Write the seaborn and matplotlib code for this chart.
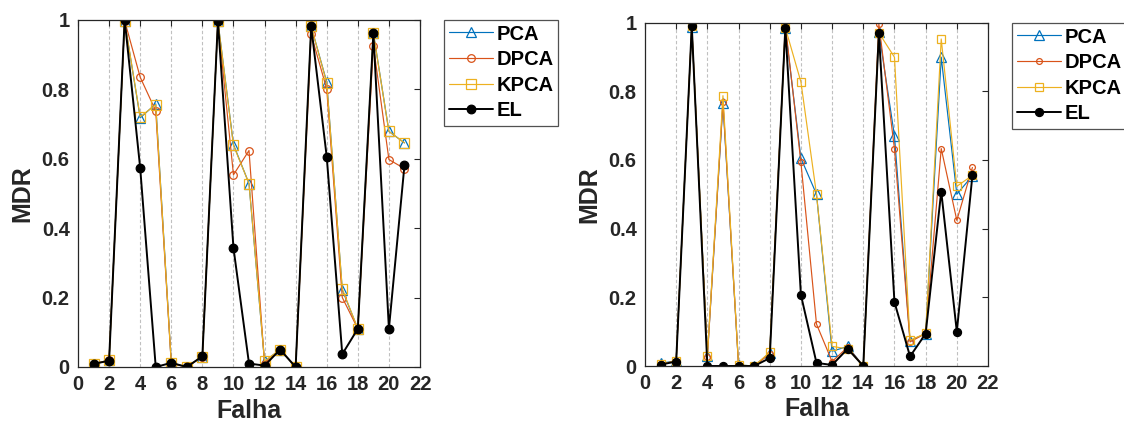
import numpy as np
import pandas as pd
import seaborn as sns
import matplotlib
matplotlib.use("Agg")
import matplotlib.pyplot as plt
from matplotlib.ticker import FuncFormatter

falha = list(range(1, 22))

# Left panel
pca_a = [0.008, 0.02, 0.995, 0.717, 0.757, 0.012, 0.0, 0.03, 0.995, 0.64, 0.528,
         0.016, 0.05, 0.0, 0.98, 0.82, 0.222, 0.11, 0.962, 0.678, 0.645]
dpca_a = [0.008, 0.02, 0.997, 0.834, 0.737, 0.01, 0.0, 0.03, 0.995, 0.553, 0.623,
          0.01, 0.05, 0.0, 0.957, 0.80, 0.20, 0.11, 0.925, 0.597, 0.571]
kpca_a = [0.008, 0.02, 0.995, 0.72, 0.755, 0.012, 0.0, 0.03, 0.995, 0.638, 0.528,
          0.017, 0.05, 0.0, 0.98, 0.818, 0.225, 0.11, 0.96, 0.678, 0.645]
el_a = [0.009, 0.018, 1.0, 0.573, 0.0, 0.012, 0.0, 0.031, 0.995, 0.343, 0.01,
        0.004, 0.05, 0.0, 0.98, 0.605, 0.037, 0.11, 0.96, 0.11, 0.58]

# Right panel
pca_b = [0.008, 0.015, 0.988, 0.028, 0.765, 0.003, 0.0, 0.038, 0.984, 0.605, 0.50,
         0.043, 0.057, 0.0, 0.972, 0.67, 0.074, 0.094, 0.899, 0.50, 0.554]
dpca_b = [0.005, 0.015, 0.99, 0.025, 0.77, 0.002, 0.0, 0.035, 0.993, 0.593, 0.122,
          0.013, 0.055, 0.0, 0.995, 0.633, 0.07, 0.095, 0.633, 0.424, 0.578]
kpca_b = [0.005, 0.015, 0.99, 0.03, 0.787, 0.003, 0.0, 0.04, 0.985, 0.827, 0.50,
          0.057, 0.05, 0.0, 0.97, 0.899, 0.075, 0.095, 0.952, 0.523, 0.555]
el_b = [0.004, 0.013, 0.99, 0.0, 0.0, 0.0, 0.0, 0.023, 0.985, 0.207, 0.009,
        0.003, 0.05, 0.0, 0.97, 0.186, 0.028, 0.094, 0.508, 0.10, 0.555]

series_names = ["PCA", "DPCA", "KPCA", "EL"]
x_ticks = list(range(0, 23, 2))
y_ticks = [0, 0.2, 0.4, 0.6, 0.8, 1.0]

sns.set_theme(style="white")
plt.rcParams["font.family"] = ["Liberation Sans", "DejaVu Sans"]
plt.rcParams["font.weight"] = "bold"

fig = plt.figure(figsize=(11.24, 4.33), dpi=100)
W, H = 1124, 433

def mk_ax(l, t, r, b):
    return fig.add_axes([l / W, 1 - b / H, (r - l) / W, (b - t) / H])

ax1 = mk_ax(78, 19.5, 420, 367)
ax2 = mk_ax(645, 22.5, 988, 366)

colors = {"PCA": "#0072BD", "DPCA": "#D95319", "KPCA": "#EDB120", "EL": "black"}
markers = {"PCA": "^", "DPCA": "o", "KPCA": "s", "EL": "o"}
lw = {"PCA": 0.85, "DPCA": 0.85, "KPCA": 0.85, "EL": 1.4}
sizes_a = {"PCA": 7.5, "DPCA": 5.5, "KPCA": 6.5, "EL": 6.2}
sizes_b = {"PCA": 7.5, "DPCA": 4.2, "KPCA": 5.2, "EL": 5.8}

def draw(ax, data, sizes):
    for x in range(2, 21, 2):
        ax.axvline(x, color="#c0c0c0", ls=(0, (3, 2)), lw=0.8, zorder=0)
    for name, vals in zip(series_names, data):
        df = pd.DataFrame({"Falha": falha, "MDR": vals})
        filled = name == "EL"
        sns.lineplot(data=df, x="Falha", y="MDR", ax=ax, label=name,
                     color=colors[name], mec=colors[name],
                     mfc=colors[name] if filled else "none",
                     marker=markers[name], markersize=sizes[name], mew=0.9,
                     linewidth=lw[name], estimator=None, sort=False)
    ax.set_xlim(0, 22)
    ax.set_ylim(0, 1)
    ax.set_xticks(x_ticks)
    ax.set_yticks(y_ticks)
    ax.yaxis.set_major_formatter(FuncFormatter(lambda v, p: f"{v:g}"))
    ax.tick_params(direction="in", length=4, width=0.8, top=True, right=True,
                   labelsize=14.5, colors="#262626", pad=6)
    for lab in ax.get_xticklabels() + ax.get_yticklabels():
        lab.set_fontweight("bold")
    for sp in ax.spines.values():
        sp.set_visible(True)
        sp.set_color("#262626")
        sp.set_linewidth(0.9)
    ax.set_xlabel("Falha", fontsize=18, fontweight="bold", color="#262626", labelpad=3)
    ax.set_ylabel("MDR", fontsize=18, fontweight="bold", color="#262626", labelpad=5)
    leg = ax.legend(loc="upper left", bbox_to_anchor=(1.07, 1.0), borderaxespad=0,
                    frameon=True, fancybox=False, handlelength=2.2,
                    handletextpad=0.15, labelspacing=0.33, borderpad=0.25,
                    prop={"weight": "bold", "size": 14.5})
    leg.get_frame().set_edgecolor("#262626")
    leg.get_frame().set_linewidth(0.9)
    for t in leg.get_texts():
        t.set_color("black")

draw(ax1, [pca_a, dpca_a, kpca_a, el_a], sizes_a)
draw(ax2, [pca_b, dpca_b, kpca_b, el_b], sizes_b)

fig.savefig("out.png", dpi=100)
